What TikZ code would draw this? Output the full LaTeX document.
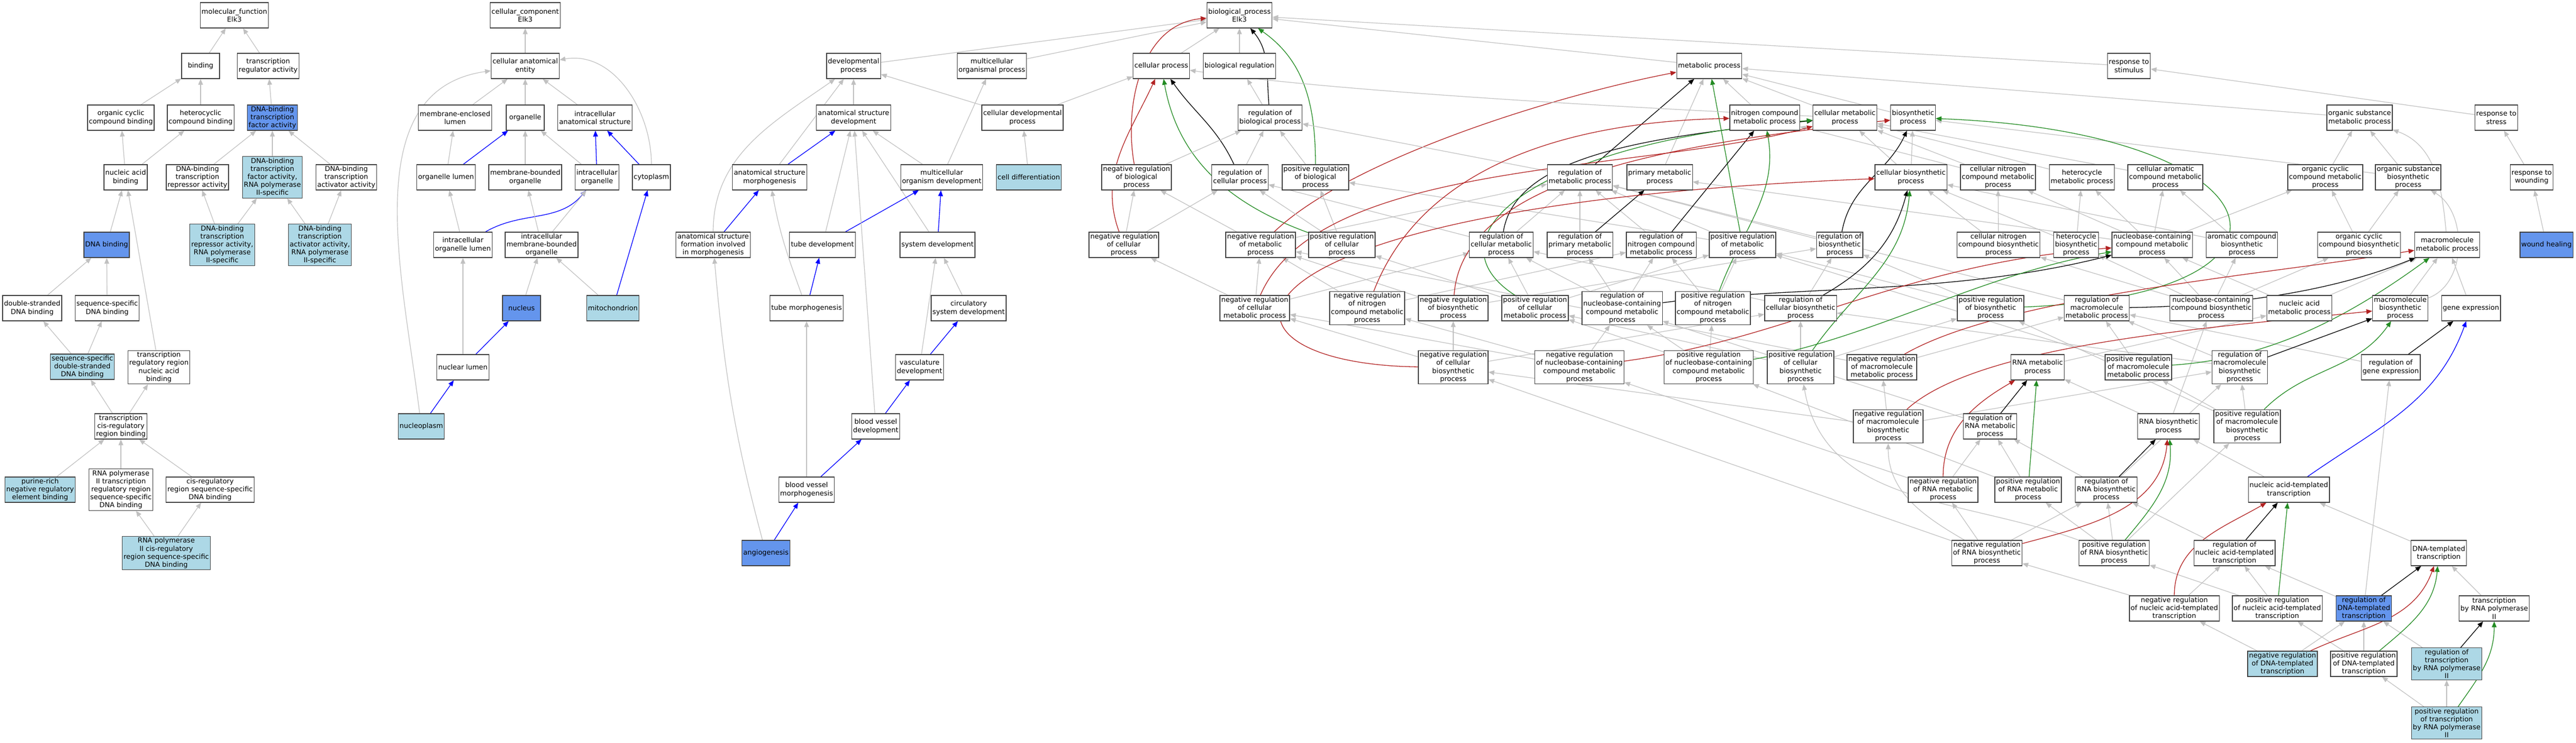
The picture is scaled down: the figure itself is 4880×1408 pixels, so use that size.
\documentclass[tikz,border=0pt]{standalone}
\usepackage{fontspec}
\setmainfont{DejaVu Sans}
\usetikzlibrary{arrows.meta,backgrounds}
\definecolor{termblue}{RGB}{100,149,237}
\definecolor{termlight}{RGB}{173,216,230}
\definecolor{edgegray}{RGB}{192,192,192}
\definecolor{negred}{RGB}{178,34,34}
\definecolor{posgreen}{RGB}{34,139,34}
\begin{document}
\begin{tikzpicture}[x=1pt, y=1pt, >={Triangle[length=11pt,width=9pt]},
    term/.style={draw=black!75, line width=1.3pt, fill=white, align=center, minimum width=72pt, minimum height=48pt, inner xsep=2.5pt, inner ysep=2.5pt, font=\fontsize{13}{15.2}\selectfont},
    hitterm/.style={term, fill=termblue},
    lightterm/.style={term, fill=termlight},
    isa/.style={->, draw=edgegray, line width=1.2pt},
    partof/.style={->, draw=blue, line width=1.3pt},
    regs/.style={->, draw=black, line width=1.3pt},
    posreg/.style={->, draw=posgreen, line width=1.3pt},
    negreg/.style={->, draw=negred, line width=1.3pt}]
    \useasboundingbox (0,0) rectangle (4880,-1408);
    \node(mf) [term] at (444,-29) {molecular\_function\\Elk3};
    \node(bind) [term] at (380,-125) {binding};
    \node(tra) [term] at (508,-125) {transcription\\regulator activity};
    \node(ocb) [term] at (229,-223) {organic cyclic\\compound binding};
    \node(hcb) [term] at (380,-223) {heterocyclic\\compound binding};
    \node(dtf) [hitterm] at (516,-223) {DNA-binding\\transcription\\factor activity};
    \node(nab) [term] at (238,-336) {nucleic acid\\binding};
    \node(rep) [term] at (374,-336) {DNA-binding\\transcription\\repressor activity};
    \node(tf2) [lightterm] at (516,-336) {DNA-binding\\transcription\\factor activity,\\RNA polymerase\\II-specific};
    \node(act) [term] at (656,-336) {DNA-binding\\transcription\\activator activity};
    \node(dnab) [hitterm] at (202,-464) {DNA binding};
    \node(rep2) [lightterm] at (421,-464) {DNA-binding\\transcription\\repressor activity,\\RNA polymerase\\II-specific};
    \node(act2) [lightterm] at (606,-464) {DNA-binding\\transcription\\activator activity,\\RNA polymerase\\II-specific};
    \node(dsb) [term] at (61,-584) {double-stranded\\DNA binding};
    \node(ssb) [term] at (203,-584) {sequence-specific\\DNA binding};
    \node(ssds) [lightterm] at (156,-695) {sequence-specific\\double-stranded\\DNA binding};
    \node(trnab) [term] at (301,-696) {transcription\\regulatory region\\nucleic acid\\binding};
    \node(tcrb) [term] at (229,-808) {transcription\\cis-regulatory\\region binding};
    \node(pur) [lightterm] at (76,-928) {purine-rich\\negative regulatory\\element binding};
    \node(p2tr) [term] at (229,-928) {RNA polymerase\\II transcription\\regulatory region\\sequence-specific\\DNA binding};
    \node(cisr) [term] at (398,-928) {cis-regulatory\\region sequence-specific\\DNA binding};
    \node(p2cis) [lightterm] at (315,-1048) {RNA polymerase\\II cis-regulatory\\region sequence-specific\\DNA binding};
    \node(cc) [term] at (995,-29) {cellular\_component\\Elk3};
    \node(cae) [term] at (995,-125) {cellular anatomical\\entity};
    \node(mel) [term] at (862,-223) {membrane-enclosed\\lumen};
    \node(org) [term] at (995,-223) {organelle};
    \node(ias) [term] at (1127,-223) {intracellular\\anatomical structure};
    \node(orgl) [term] at (845,-336) {organelle lumen};
    \node(mbo) [term] at (995,-336) {membrane-bounded\\organelle};
    \node(io) [term] at (1131,-336) {intracellular\\organelle};
    \node(cyto) [term] at (1234,-336) {cytoplasm};
    \node(iol) [term] at (877,-464) {intracellular\\organelle lumen};
    \node(imbo) [term] at (1026,-464) {intracellular\\membrane-bounded\\organelle};
    \node(nuc) [hitterm] at (988,-584) {nucleus};
    \node(mito) [lightterm] at (1161,-584) {mitochondrion};
    \node(nl) [term] at (877,-696) {nuclear lumen};
    \node(np) [lightterm] at (798,-808) {nucleoplasm};
    \node(dev) [term] at (1617,-125) {developmental\\process};
    \node(asd) [term] at (1617,-223) {anatomical structure\\development};
    \node(asm) [term] at (1458,-336) {anatomical structure\\morphogenesis};
    \node(asf) [term] at (1351,-464) {anatomical structure\\formation involved\\in morphogenesis};
    \node(td) [term] at (1558,-464) {tube development};
    \node(tm) [term] at (1528,-584) {tube morphogenesis};
    \node(bvm) [term] at (1528,-928) {blood vessel\\morphogenesis};
    \node(ang) [hitterm] at (1451,-1048) {angiogenesis};
    \node(mop) [term] at (1879,-125) {multicellular\\organismal process};
    \node(cdp) [term] at (1937,-223) {cellular developmental\\process};
    \node(mod) [term] at (1784,-336) {multicellular\\organism development};
    \node(cdiff) [lightterm] at (1949,-336) {cell differentiation};
    \node(sysd) [term] at (1776,-464) {system development};
    \node(csd) [term] at (1835,-584) {circulatory\\system development};
    \node(vd) [term] at (1742,-696) {vasculature\\development};
    \node(bvd) [term] at (1659,-808) {blood vessel\\development};
    \node(bp) [term] at (2348,-29) {biological\_process\\Elk3};
    \node(cp) [term] at (2200,-125) {cellular process};
    \node(breg) [term] at (2348,-125) {biological regulation};
    \node(rbp) [term] at (2406,-223) {regulation of\\biological process};
    \node(nrbp) [term] at (2153,-336) {negative regulation\\of biological\\process};
    \node(rcp) [term] at (2349,-336) {regulation of\\cellular process};
    \node(prbp) [term] at (2492,-336) {positive regulation\\of biological\\process};
    \node(nrcp) [term] at (2129,-464) {negative regulation\\of cellular\\process};
    \node(nrmp) [term] at (2388,-464) {negative regulation\\of metabolic\\process};
    \node(prcp) [term] at (2542,-464) {positive regulation\\of cellular\\process};
    \node(nrcmp) [term] at (2377,-584) {negative regulation\\of cellular\\metabolic process};
    \node(mp) [term] at (3238,-125) {metabolic process};
    \node(rmp) [term] at (2993,-336) {regulation of\\metabolic process};
    \node(pmp) [term] at (3144,-336) {primary metabolic\\process};
    \node(rcmp) [term] at (2844,-464) {regulation of\\cellular metabolic\\process};
    \node(rpmp) [term] at (2993,-464) {regulation of\\primary metabolic\\process};
    \node(rncmp) [term] at (3147,-464) {regulation of\\nitrogen compound\\metabolic process};
    \node(nrncmp) [term] at (2590,-584) {negative regulation\\of nitrogen\\compound metabolic\\process};
    \node(nrbsp) [term] at (2753,-584) {negative regulation\\of biosynthetic\\process};
    \node(prcmp) [term] at (2908,-584) {positive regulation\\of cellular\\metabolic process};
    \node(rnbcmp) [term] at (3073,-584) {regulation of\\nucleobase-containing\\compound metabolic\\process};
    \node(prncmp) [term] at (3245,-584) {positive regulation\\of nitrogen\\compound metabolic\\process};
    \node(ncbp) [term] at (2753,-696) {negative regulation\\of cellular\\biosynthetic\\process};
    \node(nrnbcmp) [term] at (2992,-696) {negative regulation\\of nucleobase-containing\\compound metabolic\\process};
    \node(prnbcmp) [term] at (3237,-696) {positive regulation\\of nucleobase-containing\\compound metabolic\\process};
    \node(ncmp) [term] at (3343,-223) {nitrogen compound\\metabolic process};
    \node(cmp) [term] at (3495,-223) {cellular metabolic\\process};
    \node(bsp) [term] at (3624,-223) {biosynthetic\\process};
    \node(rstim) [term] at (4033,-125) {response to\\stimulus};
    \node(cbp) [term] at (3620,-336) {cellular biosynthetic\\process};
    \node(cncmp) [term] at (3785,-336) {cellular nitrogen\\compound metabolic\\process};
    \node(hmp) [term] at (3944,-336) {heterocycle\\metabolic process};
    \node(camp) [term] at (4102,-336) {cellular aromatic\\compound metabolic\\process};
    \node(prmp) [term] at (3301,-464) {positive regulation\\of metabolic\\process};
    \node(rbsp) [term] at (3485,-464) {regulation of\\biosynthetic\\process};
    \node(cncbp) [term] at (3786,-464) {cellular nitrogen\\compound biosynthetic\\process};
    \node(hbp) [term] at (3933,-464) {heterocycle\\biosynthetic\\process};
    \node(nbcmp) [term] at (4077,-464) {nucleobase-containing\\compound metabolic\\process};
    \node(rcbp) [term] at (3411,-584) {regulation of\\cellular biosynthetic\\process};
    \node(prbsp) [term] at (3771,-584) {positive regulation\\of biosynthetic\\process};
    \node(rmmp) [term] at (3972,-584) {regulation of\\macromolecule\\metabolic process};
    \node(prcbp) [term] at (3411,-696) {positive regulation\\of cellular\\biosynthetic\\process};
    \node(nrmmp) [term] at (3565,-696) {negative regulation\\of macromolecule\\metabolic process};
    \node(rnamp) [term] at (3860,-696) {RNA metabolic\\process};
    \node(prmmp) [term] at (4051,-696) {positive regulation\\of macromolecule\\metabolic process};
    \node(osmp) [term] at (4470,-223) {organic substance\\metabolic process};
    \node(rstress) [term] at (4729,-223) {response to\\stress};
    \node(occmp) [term] at (4405,-336) {organic cyclic\\compound metabolic\\process};
    \node(osbp) [term] at (4562,-336) {organic substance\\biosynthetic\\process};
    \node(rwound) [term] at (4796,-336) {response to\\wounding};
    \node(acbp) [term] at (4247,-464) {aromatic compound\\biosynthetic\\process};
    \node(occbp) [term] at (4469,-464) {organic cyclic\\compound biosynthetic\\process};
    \node(mmp) [term] at (4636,-464) {macromolecule\\metabolic process};
    \node(wound) [hitterm] at (4824,-464) {wound healing};
    \node(nbcbp) [term] at (4189,-584) {nucleobase-containing\\compound biosynthetic\\process};
    \node(namp) [term] at (4356,-584) {nucleic acid\\metabolic process};
    \node(mbp) [term] at (4547,-584) {macromolecule\\biosynthetic\\process};
    \node(gexp) [term] at (4681,-584) {gene expression};
    \node(rmbp) [term] at (4243,-696) {regulation of\\macromolecule\\biosynthetic\\process};
    \node(rge) [term] at (4529,-696) {regulation of\\gene expression};
    \node(nrmbp) [term] at (3577,-808) {negative regulation\\of macromolecule\\biosynthetic\\process};
    \node(rrnamp) [term] at (3770,-808) {regulation of\\RNA metabolic\\process};
    \node(rnabp) [term] at (4108,-808) {RNA biosynthetic\\process};
    \node(prmbp) [term] at (4257,-808) {positive regulation\\of macromolecule\\biosynthetic\\process};
    \node(nrrnamp) [term] at (3681,-928) {negative regulation\\of RNA metabolic\\process};
    \node(prrnamp) [term] at (3842,-928) {positive regulation\\of RNA metabolic\\process};
    \node(rrnabp) [term] at (3990,-928) {regulation of\\RNA biosynthetic\\process};
    \node(natt) [term] at (4336,-928) {nucleic acid-templated\\transcription};
    \node(nrrnabp) [term] at (3764,-1048) {negative regulation\\of RNA biosynthetic\\process};
    \node(prrnabp) [term] at (4005,-1048) {positive regulation\\of RNA biosynthetic\\process};
    \node(rnatt) [term] at (4233,-1048) {regulation of\\nucleic acid-templated\\transcription};
    \node(dtt) [term] at (4620,-1048) {DNA-templated\\transcription};
    \node(nrnatt) [term] at (4119,-1153) {negative regulation\\of nucleic acid-templated\\transcription};
    \node(prnatt) [term] at (4314,-1153) {positive regulation\\of nucleic acid-templated\\transcription};
    \node(rdtt) [hitterm] at (4478,-1153) {regulation of\\DNA-templated\\transcription};
    \node(tp2) [term] at (4725,-1153) {transcription\\by RNA polymerase\\II};
    \node(nrdtt) [lightterm] at (4324,-1258) {negative regulation\\of DNA-templated\\transcription};
    \node(prdtt) [term] at (4478,-1258) {positive regulation\\of DNA-templated\\transcription};
    \node(rtp2) [lightterm] at (4635,-1258) {regulation of\\transcription\\by RNA polymerase\\II};
    \node(prtp2) [lightterm] at (4635,-1370) {positive regulation\\of transcription\\by RNA polymerase\\II};
    \begin{scope}[on background layer]
    \draw[isa](bind) to (mf);
    \draw[isa](tra) to (mf);
    \draw[isa](ocb) to (bind);
    \draw[isa](hcb) to (bind);
    \draw[isa](dtf) to (tra);
    \draw[isa](nab) to (ocb);
    \draw[isa](nab) to (hcb);
    \draw[isa](rep) to (dtf);
    \draw[isa](tf2) to (dtf);
    \draw[isa](act) to (dtf);
    \draw[isa](dnab) to (nab);
    \draw[isa](trnab) to (nab);
    \draw[isa](rep2) to (rep);
    \draw[isa](rep2) to (tf2);
    \draw[isa](act2) to (tf2);
    \draw[isa](act2) to (act);
    \draw[isa](dsb) to (dnab);
    \draw[isa](ssb) to (dnab);
    \draw[isa](ssds) to (dsb);
    \draw[isa](ssds) to (ssb);
    \draw[isa](tcrb) to (ssds);
    \draw[isa](tcrb) to (trnab);
    \draw[isa](pur) to (tcrb);
    \draw[isa](p2tr) to (tcrb);
    \draw[isa](cisr) to (tcrb);
    \draw[isa](p2cis) to (p2tr);
    \draw[isa](p2cis) to (cisr);
    \draw[isa](cae) to (cc);
    \draw[isa](mel) to (cae);
    \draw[isa](org) to (cae);
    \draw[isa](ias) to (cae);
    \draw[isa](cyto) to[out=90,in=10] (cae);
    \draw[isa](np) to[out=97,in=188] (cae);
    \draw[isa](orgl) to (mel);
    \draw[partof](orgl) to (org);
    \draw[isa](mbo) to (org);
    \draw[isa](io) to (org);
    \draw[partof](io) to (ias);
    \draw[partof](cyto) to (ias);
    \draw[isa](iol) to (orgl);
    \draw[partof](iol) to[out=30,in=-130] (io);
    \draw[isa](imbo) to (mbo);
    \draw[isa](imbo) to (io);
    \draw[isa](nuc) to (imbo);
    \draw[isa](mito) to (imbo);
    \draw[partof](mito) to (cyto);
    \draw[isa](nl) to (iol);
    \draw[partof](nl) to (nuc);
    \draw[partof](np) to (nl);
    \draw[isa](dev) to (bp);
    \draw[isa](mop) to (bp);
    \draw[isa](asd) to (dev);
    \draw[isa](cdp) to (dev);
    \draw[isa](cdp) to (cp);
    \draw[isa](asm) to (dev);
    \draw[partof](asm) to (asd);
    \draw[isa](asf) to[out=90,in=-145] (dev);
    \draw[partof](asf) to (asm);
    \draw[isa](mod) to (mop);
    \draw[isa](mod) to (asd);
    \draw[isa](cdiff) to (cdp);
    \draw[isa](sysd) to (asd);
    \draw[partof](sysd) to (mod);
    \draw[isa](td) to (asd);
    \draw[partof](td) to (mod);
    \draw[isa](tm) to[out=110,in=-80] (asm);
    \draw[partof](tm) to (td);
    \draw[isa](csd) to (sysd);
    \draw[isa](vd) to (sysd);
    \draw[partof](vd) to (csd);
    \draw[isa](bvd) to (asd);
    \draw[partof](bvd) to (vd);
    \draw[isa](bvm) to (tm);
    \draw[partof](bvm) to (bvd);
    \draw[isa](ang) to[out=105,in=-85] (asf);
    \draw[partof](ang) to (bvm);
    \draw[isa](cp) to (bp);
    \draw[isa](breg) to (bp);
    \draw[isa](mp) to (bp);
    \draw[isa](rstim) to (bp);
    \draw[isa](rbp) to (breg);
    \draw[regs](rbp) to[out=95,in=-50] (bp);
    \draw[posreg](prbp) to[out=90,in=-35] (bp);
    \draw[negreg](nrbp) to[out=100,in=185] (bp);
    \draw[regs](rcp) to[out=115,in=-55] (cp);
    \draw[posreg](prcp) to[out=160,in=-80] (cp);
    \draw[negreg](nrcp) to[out=110,in=-115] (cp);
    \draw[regs](rmp) to (mp);
    \draw[posreg](prmp) to (mp);
    \draw[negreg](nrmp) .. controls (2560,-300) and (2950,-180) .. (mp);
    \draw[isa](rcp) to (rbp);
    \draw[isa](nrbp) to (rbp);
    \draw[isa](prbp) to (rbp);
    \draw[isa](rmp) to (rbp);
    \draw[isa](nrcp) to (nrbp);
    \draw[isa](nrcp) to (rcp);
    \draw[isa](nrmp) to (nrbp);
    \draw[isa](nrmp) to (rmp);
    \draw[isa](prcp) to (prbp);
    \draw[isa](prcp) to (rcp);
    \draw[isa](prmp) to (prbp);
    \draw[isa](prmp) to (rmp);
    \draw[isa](rcmp) to (rcp);
    \draw[isa](rcmp) to (rmp);
    \draw[isa](rpmp) to (rmp);
    \draw[isa](rncmp) to (rmp);
    \draw[isa](rbsp) to (rmp);
    \draw[isa](rmmp) to (rmp);
    \draw[isa](nrcmp) to (nrcp);
    \draw[isa](nrcmp) to (nrmp);
    \draw[isa](nrcmp) to (rcmp);
    \draw[isa](nrncmp) to (nrmp);
    \draw[isa](nrncmp) to (rncmp);
    \draw[isa](nrbsp) to (nrmp);
    \draw[isa](nrbsp) to (rbsp);
    \draw[isa](prcmp) to (prcp);
    \draw[isa](prcmp) to (prmp);
    \draw[isa](prcmp) to (rcmp);
    \draw[isa](rnbcmp) to (rcmp);
    \draw[isa](rnbcmp) to (rpmp);
    \draw[isa](rnbcmp) to (rncmp);
    \draw[isa](prncmp) to (prmp);
    \draw[isa](prncmp) to (rncmp);
    \draw[isa](ncbp) to (nrbsp);
    \draw[isa](ncbp) to (nrcmp);
    \draw[isa](ncbp) to (rcbp);
    \draw[isa](nrnbcmp) to (rnbcmp);
    \draw[isa](nrnbcmp) to (nrcmp);
    \draw[isa](nrnbcmp) to (nrncmp);
    \draw[isa](prnbcmp) to (rnbcmp);
    \draw[isa](prnbcmp) to (prcmp);
    \draw[isa](prnbcmp) to (prncmp);
    \draw[isa](rcbp) to (rbsp);
    \draw[isa](rcbp) to (rcmp);
    \draw[isa](prbsp) to (prmp);
    \draw[isa](prbsp) to (rbsp);
    \draw[isa](prcbp) to (prbsp);
    \draw[isa](prcbp) to (prcmp);
    \draw[isa](prcbp) to (rcbp);
    \draw[isa](nrmmp) to (rmmp);
    \draw[isa](nrmmp) to (nrmp);
    \draw[isa](prmmp) to (rmmp);
    \draw[isa](prmmp) to (prmp);
    \draw[isa](rmbp) to (rmmp);
    \draw[isa](rmbp) to (rcbp);
    \draw[isa](rge) to (rmmp);
    \draw[isa](nrmbp) to (rmbp);
    \draw[isa](nrmbp) to (nrmmp);
    \draw[isa](nrmbp) to (ncbp);
    \draw[isa](prmbp) to (rmbp);
    \draw[isa](prmbp) to (prmmp);
    \draw[isa](prmbp) to (prbsp);
    \draw[isa](rrnamp) to (rnbcmp);
    \draw[isa](nrrnamp) to (rrnamp);
    \draw[isa](nrrnamp) to (nrnbcmp);
    \draw[isa](prrnamp) to (rrnamp);
    \draw[isa](prrnamp) to (prnbcmp);
    \draw[isa](rrnabp) to (rrnamp);
    \draw[isa](rrnabp) to (rmbp);
    \draw[isa](nrrnabp) to (rrnabp);
    \draw[isa](nrrnabp) to (nrrnamp);
    \draw[isa](nrrnabp) to[out=150,in=-90] (nrmbp);
    \draw[isa](nrrnabp) to (ncbp);
    \draw[isa](prrnabp) to (rrnabp);
    \draw[isa](prrnabp) to (prrnamp);
    \draw[isa](prrnabp) to (prmbp);
    \draw[isa](prrnabp) to[out=160,in=-80] (prcbp);
    \draw[isa](rnatt) to (rrnabp);
    \draw[isa](nrnatt) to (rnatt);
    \draw[isa](nrnatt) to (nrrnabp);
    \draw[isa](prnatt) to (rnatt);
    \draw[isa](prnatt) to (prrnabp);
    \draw[isa](rdtt) to (rnatt);
    \draw[isa](rdtt) to (rge);
    \draw[isa](nrdtt) to (rdtt);
    \draw[isa](nrdtt) to (nrnatt);
    \draw[isa](prdtt) to (rdtt);
    \draw[isa](prdtt) to (prnatt);
    \draw[isa](rtp2) to (rdtt);
    \draw[isa](prtp2) to (rtp2);
    \draw[isa](prtp2) to (prdtt);
    \draw[isa](ncmp) to (mp);
    \draw[isa](cmp) to (mp);
    \draw[isa](cmp) .. controls (3000,-200) and (2500,-170) .. (cp);
    \draw[isa](bsp) to (mp);
    \draw[isa](pmp) to (mp);
    \draw[isa](osmp) to (mp);
    \draw[isa](cbp) to (bsp);
    \draw[isa](cbp) to (cmp);
    \draw[isa](cncmp) to (ncmp);
    \draw[isa](cncmp) to (cmp);
    \draw[isa](hmp) to (cmp);
    \draw[isa](camp) to (cmp);
    \draw[isa](occmp) to (osmp);
    \draw[isa](osbp) to (osmp);
    \draw[isa](osbp) to (bsp);
    \draw[isa](cncbp) to (cncmp);
    \draw[isa](cncbp) to (cbp);
    \draw[isa](hbp) to (hmp);
    \draw[isa](hbp) to (cbp);
    \draw[isa](nbcmp) to (hmp);
    \draw[isa](nbcmp) to (camp);
    \draw[isa](nbcmp) to (cncmp);
    \draw[isa](nbcmp) to (occmp);
    \draw[isa](nbcmp) to (pmp);
    \draw[isa](acbp) to (camp);
    \draw[isa](acbp) to (cbp);
    \draw[isa](occbp) to (occmp);
    \draw[isa](occbp) to (osbp);
    \draw[isa](mmp) to[out=95,in=-20] (osmp);
    \draw[isa](nbcbp) to (nbcmp);
    \draw[isa](nbcbp) to (hbp);
    \draw[isa](nbcbp) to (acbp);
    \draw[isa](nbcbp) to (cncbp);
    \draw[isa](nbcbp) to (occbp);
    \draw[isa](namp) to (nbcmp);
    \draw[isa](namp) to (mmp);
    \draw[isa](mbp) to (mmp);
    \draw[isa](mbp) to[out=20,in=-30] (osbp);
    \draw[isa](gexp) to (mmp);
    \draw[isa](rnamp) to (namp);
    \draw[isa](rnabp) to (rnamp);
    \draw[isa](rnabp) to (nbcbp);
    \draw[isa](natt) to (rnabp);
    \draw[isa](dtt) to (natt);
    \draw[isa](tp2) to (dtt);
    \draw[isa](rstress) to (rstim);
    \draw[isa](rwound) to (rstress);
    \draw[isa](wound) to (rwound);
    \draw[regs](rcmp) .. controls (2870,-300) and (3100,-260) .. (cmp);
    \draw[regs](rpmp) to (pmp);
    \draw[regs](rncmp) to (ncmp);
    \draw[regs](rbsp) to[out=80,in=-115] (bsp);
    \draw[regs](rcbp) to[out=30,in=-105] (cbp);
    \draw[regs](rnbcmp) .. controls (3400,-540) and (3700,-560) .. (nbcmp);
    \draw[regs](rmmp) .. controls (4200,-580) and (4400,-560) .. (mmp);
    \draw[regs](rmbp) to (mbp);
    \draw[regs](rge) to (gexp);
    \draw[regs](rrnamp) to (rnamp);
    \draw[regs](rrnabp) to (rnabp);
    \draw[regs](rnatt) to (natt);
    \draw[regs](rdtt) to (dtt);
    \draw[regs](rtp2) to (tp2);
    \draw[posreg](prcmp) .. controls (2700,-450) and (2900,-270) .. (cmp);
    \draw[posreg](prncmp) to[out=70,in=-80] (ncmp);
    \draw[posreg](prbsp) .. controls (4420,-560) and (4330,-250) .. (bsp);
    \draw[posreg](prcbp) to[out=55,in=-95] (cbp);
    \draw[posreg](prnbcmp) .. controls (3550,-640) and (3750,-520) .. (nbcmp);
    \draw[posreg](prmmp) .. controls (4300,-680) and (4450,-600) .. (mmp);
    \draw[posreg](prmbp) to[out=45,in=-125] (mbp);
    \draw[posreg](prrnamp) to (rnamp);
    \draw[posreg](prrnabp) to[out=50,in=-85] (rnabp);
    \draw[posreg](prnatt) to (natt);
    \draw[posreg](prdtt) to[out=40,in=-95] (dtt);
    \draw[posreg](prtp2) to[out=55,in=-90] (tp2);
    \draw[negreg](nrcmp) .. controls (2500,-300) and (3100,-330) .. (cmp);
    \draw[negreg](nrncmp) .. controls (2700,-300) and (3000,-230) .. (ncmp);
    \draw[negreg](nrbsp) .. controls (2770,-330) and (3200,-270) .. (bsp);
    \draw[negreg](ncbp) .. controls (2250,-690) and (2250,-390) .. (cbp);
    \draw[negreg](nrnbcmp) .. controls (3400,-640) and (3600,-500) .. (nbcmp);
    \draw[negreg](nrmmp) .. controls (3800,-560) and (4300,-520) .. (mmp);
    \draw[negreg](nrmbp) .. controls (3750,-650) and (4200,-620) .. (mbp);
    \draw[negreg](nrrnamp) to[out=90,in=-150] (rnamp);
    \draw[negreg](nrrnabp) to[out=15,in=-95] (rnabp);
    \draw[negreg](nrnatt) to[out=90,in=-150] (natt);
    \draw[negreg](nrdtt) to[out=25,in=-110] (dtt);
    \draw[partof](natt) to[out=35,in=-110] (gexp);
    \end{scope}
\end{tikzpicture}
\end{document}
